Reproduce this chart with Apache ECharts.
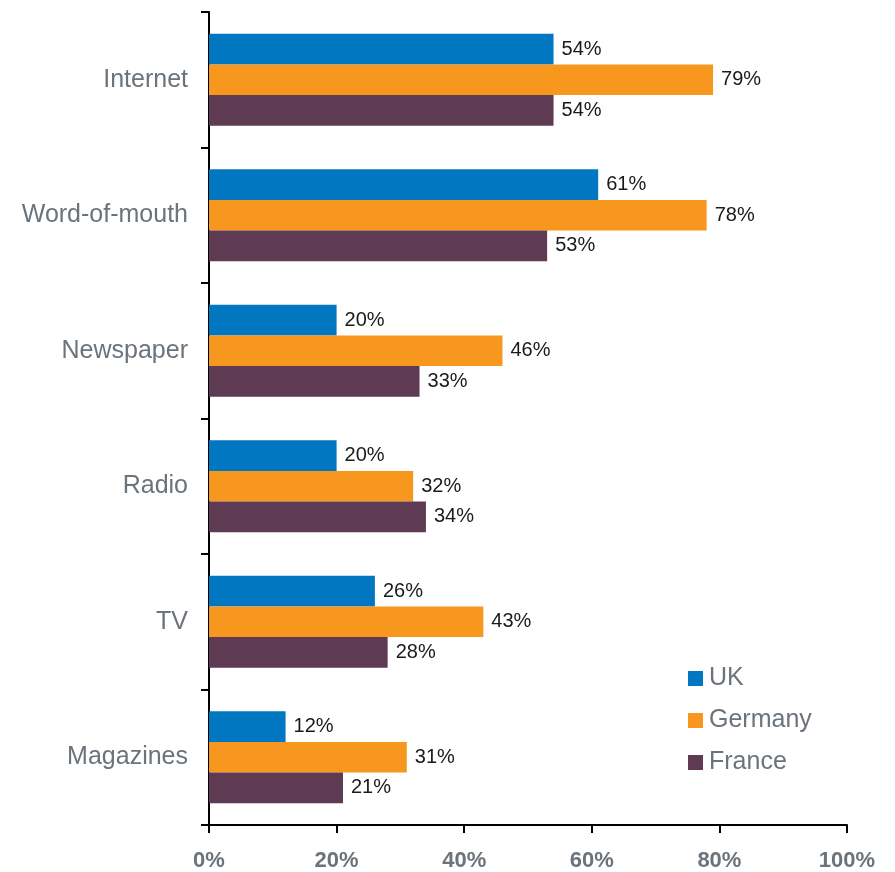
<!DOCTYPE html>
<html>
<head>
<meta charset="utf-8">
<script src="https://cdn.jsdelivr.net/npm/echarts@6/dist/echarts.min.js"></script>
<style>
  html, body { margin: 0; padding: 0; background: #fff; }
  #chart { width: 895px; height: 872px; }
</style>
</head>
<body>
<div id="chart"></div>
<script>
// Media channels (top to bottom)
const categories = ['Internet', 'Word-of-mouth', 'Newspaper', 'Radio', 'TV', 'Magazines'];
// Share of respondents per channel, in percent
const ukValues = [54, 61, 20, 20, 26, 12];
const germanyValues = [79, 78, 46, 32, 43, 31];
const franceValues = [54, 53, 33, 34, 28, 21];
const seriesNames = ['UK', 'Germany', 'France'];
const seriesColors = ['#0077c0', '#f7971e', '#5e3a53'];

const narrowFont = '"Liberation Sans Narrow", "Arial Narrow", "Liberation Sans", sans-serif';
const regularFont = '"Liberation Sans", Arial, sans-serif';

const chart = echarts.init(document.getElementById('chart'));

const valueLabel = {
  show: true,
  position: 'right',
  distance: 8,
  formatter: p => p.value + '%',
  color: '#1a1a1a',
  fontSize: 20,
  fontFamily: narrowFont
};

const makeSeries = (name, data, color) => ({
  name,
  type: 'bar',
  data,
  barGap: '0%',
  barCategoryGap: '32%',
  itemStyle: { color },
  label: valueLabel,
  emphasis: { disabled: true }
});

chart.setOption({
  animation: false,
  grid: { left: 209, right: 48, top: 12, bottom: 46, containLabel: false },
  legend: {
    orient: 'vertical',
    left: 683,
    top: 660,
    itemWidth: 15,
    itemHeight: 15,
    itemGap: 15,
    icon: 'rect',
    textStyle: {
      color: '#6b737b',
      fontSize: 25,
      lineHeight: 27,
      fontFamily: regularFont,
      padding: [0, 0, 0, 1]
    },
    data: seriesNames
  },
  xAxis: {
    type: 'value',
    min: 0,
    max: 100,
    interval: 20,
    axisLine: { show: true, lineStyle: { color: '#000', width: 2 } },
    axisTick: { show: true, inside: false, length: 8, lineStyle: { color: '#000', width: 2 } },
    splitLine: { show: false },
    axisLabel: {
      formatter: '{value}%',
      margin: 25,
      color: '#6b737b',
      fontSize: 22,
      fontWeight: 'bold',
      fontFamily: narrowFont
    }
  },
  yAxis: {
    type: 'category',
    data: categories,
    inverse: true,
    axisLine: { show: true, lineStyle: { color: '#000', width: 2 } },
    axisTick: { show: true, length: 8, alignWithLabel: false, lineStyle: { color: '#000', width: 2 } },
    axisLabel: {
      margin: 21,
      color: '#6b737b',
      fontSize: 25,
      fontFamily: regularFont
    }
  },
  series: [
    makeSeries(seriesNames[0], ukValues, seriesColors[0]),
    makeSeries(seriesNames[1], germanyValues, seriesColors[1]),
    makeSeries(seriesNames[2], franceValues, seriesColors[2])
  ]
});
</script>
</body>
</html>
